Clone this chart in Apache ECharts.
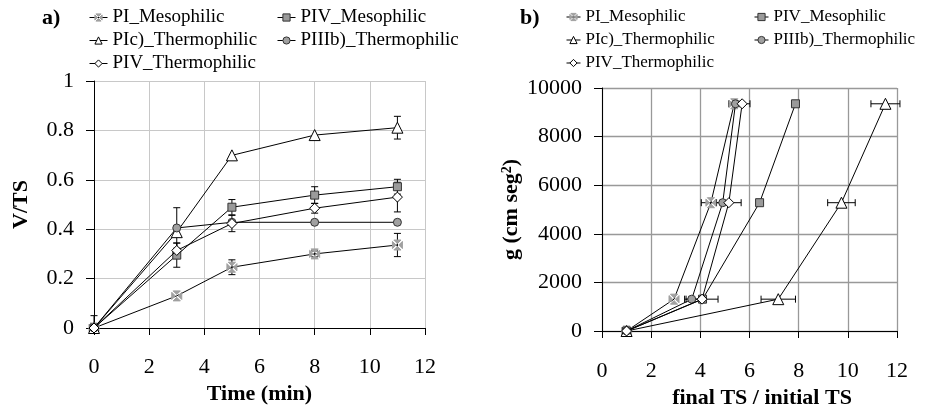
<!DOCTYPE html>
<html><head><meta charset="utf-8">
<script src="https://cdn.jsdelivr.net/npm/echarts@6/dist/echarts.min.js"></script>
<style>html,body{margin:0;padding:0;background:#fff}#c{width:931px;height:407px}</style>
</head><body><div id="c"></div>
<script>
// ---- names ----
const seriesNames = ['PI_Mesophilic', 'PIV_Mesophilic', 'PIc)_Thermophilic', 'PIIIb)_Thermophilic', 'PIV_Thermophilic'];

// ---- panel a) : V/TS vs Time (min) ----
const timeMin = [0, 3, 5, 8, 11];
const vtsPIMeso     = [0, 0.13, 0.246, 0.30, 0.336];
const vtsPIVMeso    = [0, 0.295, 0.489, 0.538, 0.572];
const vtsPIcThermo  = [0, 0.388, 0.699, 0.781, 0.811];
const vtsPIIIbThermo= [0, 0.405, 0.428, 0.428, 0.428];
const vtsPIVThermo  = [0, 0.314, 0.423, 0.485, 0.530];
const errPIMeso     = [0, 0, 0.03, 0.012, 0.047];
const errPIVMeso    = [0, 0.049, 0.031, 0.034, 0.03];
const errPIcThermo  = [0, 0, 0, 0, 0.046];
const errPIIIbThermo= [0.05, 0.082, 0, 0, 0];
const errPIVThermo  = [0, 0.03, 0.033, 0.02, 0.06];
const xTicksA = [0, 2, 4, 6, 8, 10, 12];
const yTicksA = [0, 0.2, 0.4, 0.6, 0.8, 1];

// ---- panel b) : g vs final TS / initial TS ----
const gValues = [0, 1310, 5280, 9350];
const ratioPIMeso     = [1, 2.93, 4.43, 5.38];
const ratioPIVMeso    = [1, 4.09, 6.41, 7.87];
const ratioPIcThermo  = [1, 7.17, 9.74, 11.53];
const ratioPIIIbThermo= [1, 3.65, 4.91, 5.43];
const ratioPIVThermo  = [1, 4.07, 5.16, 5.70];
const rerrPIMeso      = [0, 0, 0.39, 0];
const rerrPIVMeso     = [0, 0, 0, 0];
const rerrPIcThermo   = [0, 0.70, 0.56, 0.59];
const rerrPIIIbThermo = [0, 0.29, 0, 0.27];
const rerrPIVThermo   = [0, 0.65, 0.50, 0.32];
const xTicksB = [0, 2, 4, 6, 8, 10, 12];
const yTicksB = [0, 2000, 4000, 6000, 8000, 10000];

const FONT = '"Liberation Serif","Times New Roman",serif';

const symStyles = [
  {symbol: 'path://M1.4,0L8.6,0L5,3.6Z M10,1.4L10,8.6L6.4,5Z M8.6,10L1.4,10L5,6.4Z M0,8.6L0,1.4L3.6,5Z', size: 10, color: '#a0a0a0', border: '#a0a0a0'},
  {symbol: 'rect', size: 8, color: '#9a9a9a', border: '#333'},
  {symbol: 'triangle', size: 11, color: '#fff', border: '#000'},
  {symbol: 'circle', size: 8, color: '#a0a0a0', border: '#333'},
  {symbol: 'diamond', size: 10, color: '#fff', border: '#000'}
];

const dataA = [vtsPIMeso, vtsPIVMeso, vtsPIcThermo, vtsPIIIbThermo, vtsPIVThermo];
const errA  = [errPIMeso, errPIVMeso, errPIcThermo, errPIIIbThermo, errPIVThermo];
const dataB = [ratioPIMeso, ratioPIVMeso, ratioPIcThermo, ratioPIIIbThermo, ratioPIVThermo];
const errB  = [rerrPIMeso, rerrPIVMeso, rerrPIcThermo, rerrPIIIbThermo, rerrPIVThermo];

function lineSeries(i, xIdx, pts) {
  const s = symStyles[i];
  return {
    type: 'line', name: seriesNames[i], xAxisIndex: xIdx, yAxisIndex: xIdx,
    data: pts, symbol: s.symbol, symbolSize: s.size, showAllSymbol: true,
    lineStyle: {color: '#000', width: 1},
    itemStyle: {color: s.color, borderColor: s.border, borderWidth: 1},
    emphasis: {disabled: true}, animation: false, z: 3 + i
  };
}

const errDataA = [];
errA.forEach((arr, i) => arr.forEach((e, j) => { if (e > 0) errDataA.push([timeMin[j], dataA[i][j], e]); }));
const errDataB = [];
errB.forEach((arr, i) => arr.forEach((e, j) => { if (e > 0) errDataB.push([dataB[i][j], gValues[j], e]); }));

const stroke = {stroke: '#000', lineWidth: 1};
function vErr(params, api) {
  const x = api.value(0), y = api.value(1), e = api.value(2);
  const hi = api.coord([x, y + e]);
  const loV = Math.max(0, y - e);
  const lo = api.coord([x, loV]);
  const w = 3.5;
  const ch = [
    {type: 'line', shape: {x1: hi[0], y1: hi[1], x2: lo[0], y2: lo[1]}, style: stroke},
    {type: 'line', shape: {x1: hi[0] - w, y1: hi[1], x2: hi[0] + w, y2: hi[1]}, style: stroke}
  ];
  if (y - e >= 0) ch.push({type: 'line', shape: {x1: lo[0] - w, y1: lo[1], x2: lo[0] + w, y2: lo[1]}, style: stroke});
  return {type: 'group', children: ch};
}
function hErr(params, api) {
  const x = api.value(0), y = api.value(1), e = api.value(2);
  const l = api.coord([x - e, y]);
  const r = api.coord([x + e, y]);
  const w = 3.5;
  return {type: 'group', children: [
    {type: 'line', shape: {x1: l[0], y1: l[1], x2: r[0], y2: r[1]}, style: stroke},
    {type: 'line', shape: {x1: l[0], y1: l[1] - w, x2: l[0], y2: l[1] + w}, style: stroke},
    {type: 'line', shape: {x1: r[0], y1: r[1] - w, x2: r[0], y2: r[1] + w}, style: stroke}
  ]};
}

const tickLabel = {color: '#000', fontFamily: FONT, fontSize: 22};
const nameStyle = {color: '#000', fontFamily: FONT, fontSize: 22, fontWeight: 'bold'};

function legendItem(i) {
  const s = symStyles[i];
  return {
    name: seriesNames[i],
    itemStyle: {color: s.color, borderColor: s.border, borderWidth: 1},
    lineStyle: {color: '#000', width: 1}
  };
}
function legend(left, top, idx, fs, gap, iw) {
  return {
    left: left, top: top, orient: 'vertical', padding: 0, data: idx.map(legendItem),
    itemWidth: iw, itemHeight: 9, itemGap: gap, selectedMode: false,
    textStyle: {color: '#000', fontFamily: FONT, fontSize: fs, lineHeight: fs}
  };
}

const series = [];
dataA.forEach((arr, i) => series.push(lineSeries(i, 0, arr.map((v, j) => [timeMin[j], v]))));
dataB.forEach((arr, i) => series.push(lineSeries(i, 1, arr.map((v, j) => [v, gValues[j]]))));
series.push({type: 'custom', xAxisIndex: 0, yAxisIndex: 0, renderItem: vErr, data: errDataA, encode: {x: 0, y: 1}, z: 2, silent: true, animation: false});
series.push({type: 'custom', xAxisIndex: 1, yAxisIndex: 1, renderItem: hErr, data: errDataB, encode: {x: 0, y: 1}, z: 2, silent: true, animation: false});

const option = {
  backgroundColor: '#fff',
  animation: false,
  legend: [
    legend(89, 8, [0, 2, 4], 19, 4, 18),
    legend(277, 8, [1, 3], 19, 4, 18),
    legend(566, 8.5, [0, 2, 4], 17, 6, 14),
    legend(754, 8.5, [1, 3], 17, 6, 14)
  ],
  graphic: [
    {type: 'text', left: 42, top: 7, style: {text: 'a)', font: 'bold 22px ' + FONT, fill: '#000'}},
    {type: 'text', left: 520, top: 7, style: {text: 'b)', font: 'bold 22px ' + FONT, fill: '#000'}}
  ],
  grid: [
    {left: 94, right: 506, top: 81, bottom: 79, containLabel: false, outerBoundsMode: 'none'},
    {left: 602, right: 34, top: 88, bottom: 76, containLabel: false, outerBoundsMode: 'none'}
  ],
  xAxis: [
    {type: 'value', gridIndex: 0, min: xTicksA[0], max: xTicksA[xTicksA.length - 1], interval: 2,
     name: 'Time (min)', nameLocation: 'middle', nameGap: 48, nameTextStyle: nameStyle,
     axisLine: {lineStyle: {color: '#000', width: 1}}, axisTick: {show: true, length: 7, lineStyle: {color: '#000'}},
     axisLabel: Object.assign({margin: 28}, tickLabel),
     splitLine: {show: true, lineStyle: {color: '#c8c8c8', width: 1}}},
    {type: 'value', gridIndex: 1, min: xTicksB[0], max: xTicksB[xTicksB.length - 1], interval: 2,
     name: 'final TS / initial TS', nameLocation: 'middle', nameGap: 44,
     nameTextStyle: Object.assign({padding: [0, 0, 0, 25]}, nameStyle),
     axisLine: {lineStyle: {color: '#000', width: 1}}, axisTick: {show: true, length: 7, lineStyle: {color: '#000'}},
     axisLabel: Object.assign({margin: 29}, tickLabel),
     splitLine: {show: true, lineStyle: {color: '#999', width: 1.3}}}
  ],
  yAxis: [
    {type: 'value', gridIndex: 0, min: yTicksA[0], max: yTicksA[yTicksA.length - 1], interval: 0.2,
     name: 'V/TS', nameLocation: 'middle', nameGap: 62, nameTextStyle: nameStyle,
     axisLine: {show: true, lineStyle: {color: '#000', width: 1}}, axisTick: {show: true, length: 8, lineStyle: {color: '#000'}},
     axisLabel: Object.assign({margin: 20, padding: [5, 0, 0, 0], formatter: v => String(+v.toFixed(1))}, tickLabel),
     splitLine: {show: true, lineStyle: {color: '#c8c8c8', width: 1}}},
    {type: 'value', gridIndex: 1, min: yTicksB[0], max: yTicksB[yTicksB.length - 1], interval: 2000,
     name: 'g (cm seg{sup|2})', nameLocation: 'middle', nameGap: 80,
     nameTextStyle: Object.assign({rich: {sup: {fontFamily: FONT, fontSize: 14, fontWeight: 'bold', color: '#000', verticalAlign: 'top', lineHeight: 22}}}, nameStyle),
     axisLine: {show: true, lineStyle: {color: '#000', width: 1}}, axisTick: {show: true, length: 8, lineStyle: {color: '#000'}},
     axisLabel: Object.assign({margin: 20, padding: [5, 0, 0, 0], formatter: v => String(Math.round(v))}, tickLabel),
     splitLine: {show: true, lineStyle: {color: '#999', width: 1.3}}}
  ],
  series: series
};

const chart = echarts.init(document.getElementById('c'), null, {renderer: 'canvas'});
chart.setOption(option);
</script>
</body></html>
